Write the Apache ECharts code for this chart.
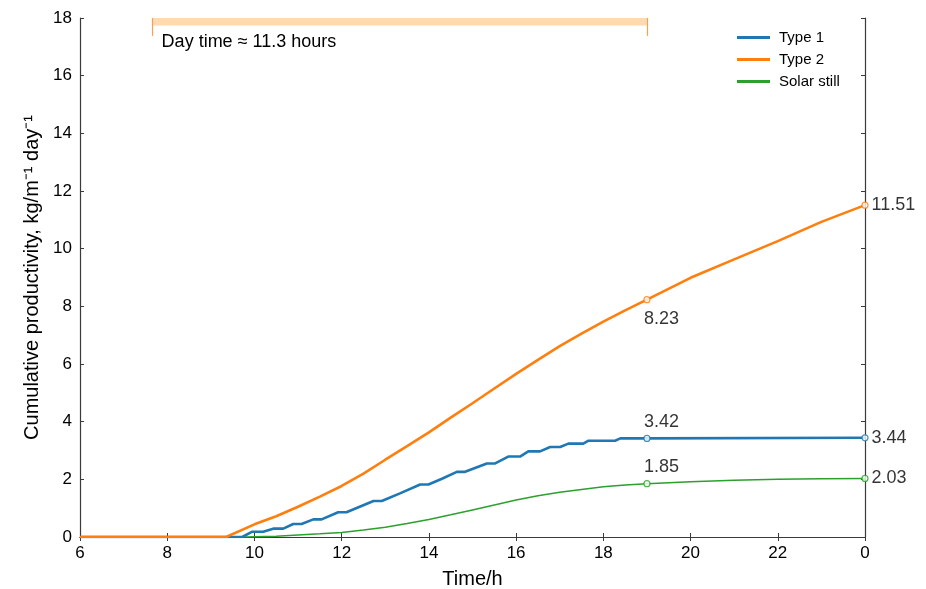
<!DOCTYPE html>
<html>
<head>
<meta charset="utf-8">
<script src="https://cdn.jsdelivr.net/npm/echarts@6/dist/echarts.min.js"></script>
<style>
  html, body { margin: 0; padding: 0; background: #fff; }
  #chart { width: 926px; height: 589px; }
</style>
</head>
<body>
<div id="chart"></div>
<script>
// values, x in hours (24 = midnight, shown as 0)
const type1 = [
  [6, 0], [9.72, 0], [9.94, 0.18], [10.2, 0.18], [10.43, 0.29], [10.66, 0.29],
  [10.89, 0.45], [11.08, 0.45], [11.35, 0.61], [11.54, 0.61], [11.92, 0.86],
  [12.11, 0.86], [12.73, 1.25], [12.92, 1.25], [13.35, 1.52], [13.8, 1.82],
  [13.99, 1.82], [14.3, 2.02], [14.64, 2.26], [14.83, 2.26], [15.33, 2.55],
  [15.52, 2.55], [15.82, 2.79], [16.09, 2.79], [16.28, 2.97], [16.55, 2.97],
  [16.78, 3.12], [17.01, 3.12], [17.2, 3.24], [17.54, 3.24], [17.66, 3.34],
  [18.27, 3.34], [18.39, 3.42], [19, 3.42], [24, 3.44]
]
const type2 = [
  [6, 0], [9.35, 0], [10, 0.44], [10.5, 0.72], [11, 1.05], [11.5, 1.4], [12, 1.77],
  [12.5, 2.2], [13, 2.68], [13.5, 3.15], [14, 3.63], [14.5, 4.14], [15, 4.64],
  [15.5, 5.15], [16, 5.66], [16.5, 6.14], [17, 6.62], [17.5, 7.05], [18, 7.47],
  [18.5, 7.86], [19, 8.23], [20, 8.99], [21, 9.63], [22, 10.26], [23, 10.93], [24, 11.51]
]
const solarStill = [
  [6, 0], [9.8, 0], [10, 0.01], [10.5, 0.03], [11, 0.07], [11.5, 0.11], [12, 0.16],
  [12.5, 0.24], [13, 0.34], [13.5, 0.47], [14, 0.61], [14.5, 0.77], [15, 0.94],
  [15.5, 1.11], [16, 1.28], [16.5, 1.43], [17, 1.55], [17.5, 1.65], [18, 1.74],
  [18.5, 1.8], [19, 1.85], [20, 1.92], [21, 1.97], [22, 2.0], [23, 2.02], [24, 2.03]
]
// marked points: [sunset, end of day]
const type1Marks = [[19, 3.42], [24, 3.44]]
const type2Marks = [[19, 8.23], [24, 11.51]]
const solarMarks = [[19, 1.85], [24, 2.03]]

const dayStart = 7.65
const dayEnd = 19
const dayLabel = 'Day time ≈ 11.3 hours'

const FONT = '"Liberation Sans", Arial, Helvetica, sans-serif'
const AXIS = '#3a3a3a'
const C1 = '#1f77b4', C2 = '#ff7f0e', C3 = '#2ca02c'

const chart = echarts.init(document.getElementById('chart'))

function marks(name, data, color, firstPos) {
  return {
    name: name,
    type: 'scatter',
    symbol: 'circle',
    symbolSize: 6,
    itemStyle: {color: '#fff', borderColor: color, borderWidth: 1.2},
    z: 5,
    data: data.map((d, i) => ({
      value: d,
      label: i === 0
        ? {position: firstPos, align: 'left', distance: firstPos === 'top' ? 4 : 7, offset: [-3, 0]}
        : {position: 'right', distance: 3}
    })),
    label: {
      show: true,
      color: '#000',
      fontSize: 18,
      fontFamily: FONT,
      formatter: p => p.value[1].toFixed(2)
    }
  }
}

const baseX = {
  type: 'value', min: 6, max: 24, interval: 2,
  axisLine: {lineStyle: {color: AXIS, width: 1.2}},
  axisTick: {inside: true, length: 4, lineStyle: {color: AXIS}},
  splitLine: {show: false}
}
const baseY = {
  type: 'value', min: 0, max: 18, interval: 2,
  axisLine: {show: true, lineStyle: {color: AXIS, width: 1.2}},
  axisTick: {show: true, inside: true, length: 4, lineStyle: {color: AXIS}},
  splitLine: {show: false}
}

chart.setOption({
  animation: false,
  backgroundColor: '#fff',
  textStyle: {fontFamily: FONT},
  grid: {left: 80, right: 61, top: 18, bottom: 52, outerBoundsMode: 'none'},
  legend: {
    data: [
      {name: 'Type 1', icon: 'rect'},
      {name: 'Type 2', icon: 'rect'},
      {name: 'Solar still', icon: 'rect'}
    ],
    orient: 'vertical',
    left: 732, top: 24,
    itemWidth: 33, itemHeight: 3, itemGap: 5,
    textStyle: {fontSize: 15, color: '#000', fontFamily: FONT, lineHeight: 17, padding: [0, 0, 0, 4]}
  },
  xAxis: [
    Object.assign({}, baseX, {
      position: 'bottom',
      name: 'Time/h', nameLocation: 'middle', nameGap: 32,
      nameTextStyle: {fontSize: 20, color: '#000', fontFamily: FONT},
      axisLabel: {fontSize: 17, color: '#000', margin: 8, formatter: v => v === 24 ? '0' : String(v)}
    }),
    Object.assign({}, baseX, {position: 'top', axisLabel: {show: false}})
  ],
  yAxis: [
    Object.assign({}, baseY, {
      position: 'left',
      name: 'Cumulative productivity, kg/m⁻¹ day⁻¹', nameLocation: 'middle', nameGap: 35,
      nameTextStyle: {fontSize: 20, color: '#000', fontFamily: FONT},
      axisLabel: {fontSize: 17, color: '#000', margin: 8}
    }),
    Object.assign({}, baseY, {position: 'right', axisLabel: {show: false}})
  ],
  series: [
    {
      name: 'band', type: 'line', data: [], silent: true,
      markArea: {
        silent: true,
        itemStyle: {color: '#ffdab0'},
        data: [[{coord: [dayStart, 17.74]}, {coord: [dayEnd, 18]}]]
      },
      markLine: {
        silent: true, symbol: 'none',
        lineStyle: {color: '#f7a24b', width: 1.2, type: 'solid'},
        label: {show: false},
        data: [
          [{coord: [dayStart, 18]}, {coord: [dayStart, 17.38]}],
          [{coord: [dayEnd, 18]}, {coord: [dayEnd, 17.38]}]
        ]
      },
      markPoint: {
        silent: true, symbol: 'circle', symbolSize: 1,
        itemStyle: {color: 'rgba(0,0,0,0)'},
        label: {show: true, position: 'right', distance: 0, color: '#000', fontSize: 18, fontFamily: FONT, formatter: dayLabel},
        data: [{coord: [7.86, 17.15]}]
      }
    },
    {name: 'Solar still', type: 'line', symbol: 'none', data: solarStill, lineStyle: {color: C3, width: 1.5}, itemStyle: {color: C3}, z: 3},
    {name: 'Type 1', type: 'line', symbol: 'none', data: type1, lineStyle: {color: C1, width: 2.6}, itemStyle: {color: C1}, z: 3},
    {name: 'Type 2', type: 'line', symbol: 'none', data: type2, lineStyle: {color: C2, width: 2.6}, itemStyle: {color: C2}, z: 3},
    marks('m1', type1Marks, C1, 'top'),
    marks('m2', type2Marks, C2, 'bottom'),
    marks('m3', solarMarks, C3, 'top')
  ]
})
</script>
</body>
</html>
